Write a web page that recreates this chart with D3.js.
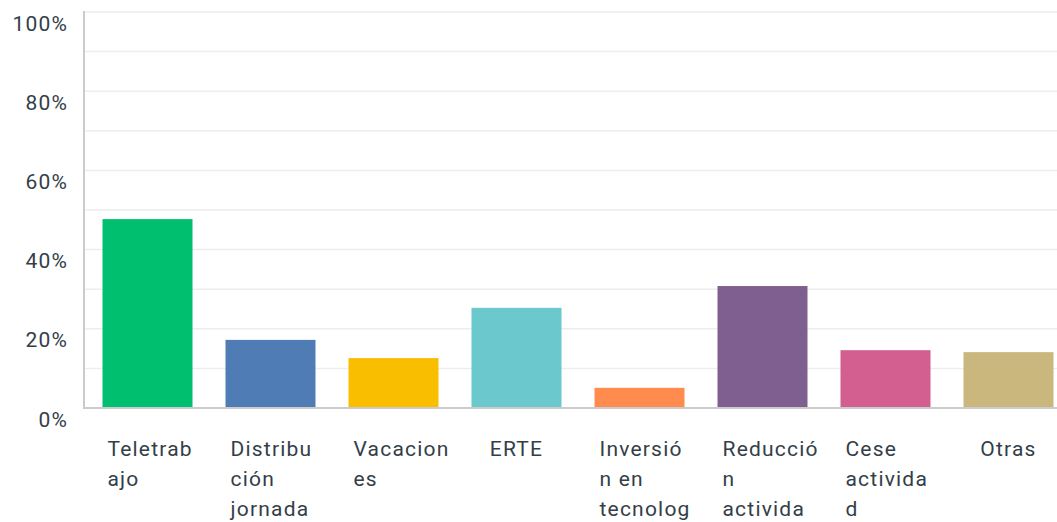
<!DOCTYPE html>
<html>
<head>
<meta charset="utf-8">
<script src="https://cdnjs.cloudflare.com/ajax/libs/d3/7.8.5/d3.min.js"></script>
<style>
  html, body { margin: 0; padding: 0; background: #fff; overflow: hidden; }
  svg { display: block; }
  .tick text { font-family: Roboto, "Noto Sans", sans-serif; fill: #333e48; }
</style>
</head>
<body>
<svg id="chart" width="1057" height="522"></svg>
<script>
// data
var categories = ["Teletrabajo", "Distribución jornada", "Vacaciones", "ERTE",
  "Inversión en tecnología", "Reducción actividad", "Cese actividad", "Otras"];
var labelLines = [
  ["Teletrab", "ajo"],
  ["Distribu", "ción", "jornada"],
  ["Vacacion", "es"],
  ["ERTE"],
  ["Inversió", "n en", "tecnolog", "ía"],
  ["Reducció", "n", "activida", "d"],
  ["Cese", "activida", "d"],
  ["Otras"]
];
var values = [47.7, 17.2, 12.6, 25.3, 5.1, 30.8, 14.6, 14.1];
var colors = ["#00bf6f", "#507cb6", "#f9be00", "#6bc8cd", "#ff8b4f", "#7f5f90", "#d25f90", "#c9b77d"];
var yTicks = [0, 20, 40, 60, 80, 100];
var gridTicks = [10, 20, 30, 40, 50, 60, 70, 80, 90, 100];

var svg = d3.select("#chart");
var plotLeft = 84, plotTop = 12, plotBottom = 408;

// step 123, bar 90
var x = d3.scaleBand()
  .domain(categories)
  .range([86, 86 + 123 * 8])
  .paddingInner(33 / 123)
  .paddingOuter(16.5 / 123);

var y = d3.scaleLinear().domain([0, 100]).range([plotBottom, plotTop]);

// gridlines
svg.append("g")
  .selectAll("line")
  .data(gridTicks)
  .join("line")
  .attr("x1", plotLeft)
  .attr("x2", 1057)
  .attr("y1", function (d) { return y(d); })
  .attr("y2", function (d) { return y(d); })
  .attr("stroke", "#ededed")
  .attr("stroke-width", 1.5);

// bars
svg.append("g")
  .selectAll("rect")
  .data(values)
  .join("rect")
  .attr("x", function (d, i) { return x(categories[i]); })
  .attr("width", x.bandwidth())
  .attr("y", function (d) { return y(d); })
  .attr("height", function (d) { return plotBottom - y(d); })
  .attr("fill", function (d, i) { return colors[i]; });

// y axis
var yAxis = d3.axisLeft(y)
  .tickValues(yTicks)
  .tickSize(0)
  .tickPadding(16)
  .tickFormat(function (d) { return d + "%"; });
var gy = svg.append("g").attr("transform", "translate(" + plotLeft + ",0)").call(yAxis);
gy.select(".domain").remove();
gy.selectAll(".tick text")
  .attr("font-size", 21)
  .attr("letter-spacing", "1.2px")
  .attr("dy", "0.86em");

svg.append("line")
  .attr("x1", plotLeft).attr("x2", plotLeft)
  .attr("y1", plotTop - 1).attr("y2", plotBottom + 1)
  .attr("stroke", "#cbcbcb").attr("stroke-width", 2);
svg.append("line")
  .attr("x1", plotLeft).attr("x2", 1057)
  .attr("y1", plotBottom).attr("y2", plotBottom)
  .attr("stroke", "#cbcbcb").attr("stroke-width", 2);

// x labels
var lab = svg.append("g")
  .selectAll("text")
  .data(categories)
  .join("text")
  .attr("font-family", "Roboto, 'Noto Sans', sans-serif")
  .attr("font-size", 21)
  .attr("letter-spacing", "1.2px")
  .attr("fill", "#333e48")
  .attr("text-anchor", function (d, i) { return labelLines[i].length > 1 ? "start" : "middle"; })
  .attr("x", function (d, i) {
    return labelLines[i].length > 1 ? x(d) + 5 : x(d) + x.bandwidth() / 2;
  })
  .attr("y", 456);

lab.selectAll("tspan")
  .data(function (d, i) { return labelLines[i]; })
  .join("tspan")
  .attr("x", function () { return this.parentNode.getAttribute("x"); })
  .attr("dy", function (d, j) { return j === 0 ? 0 : 30; })
  .text(function (d) { return d; });
</script>
</body>
</html>
